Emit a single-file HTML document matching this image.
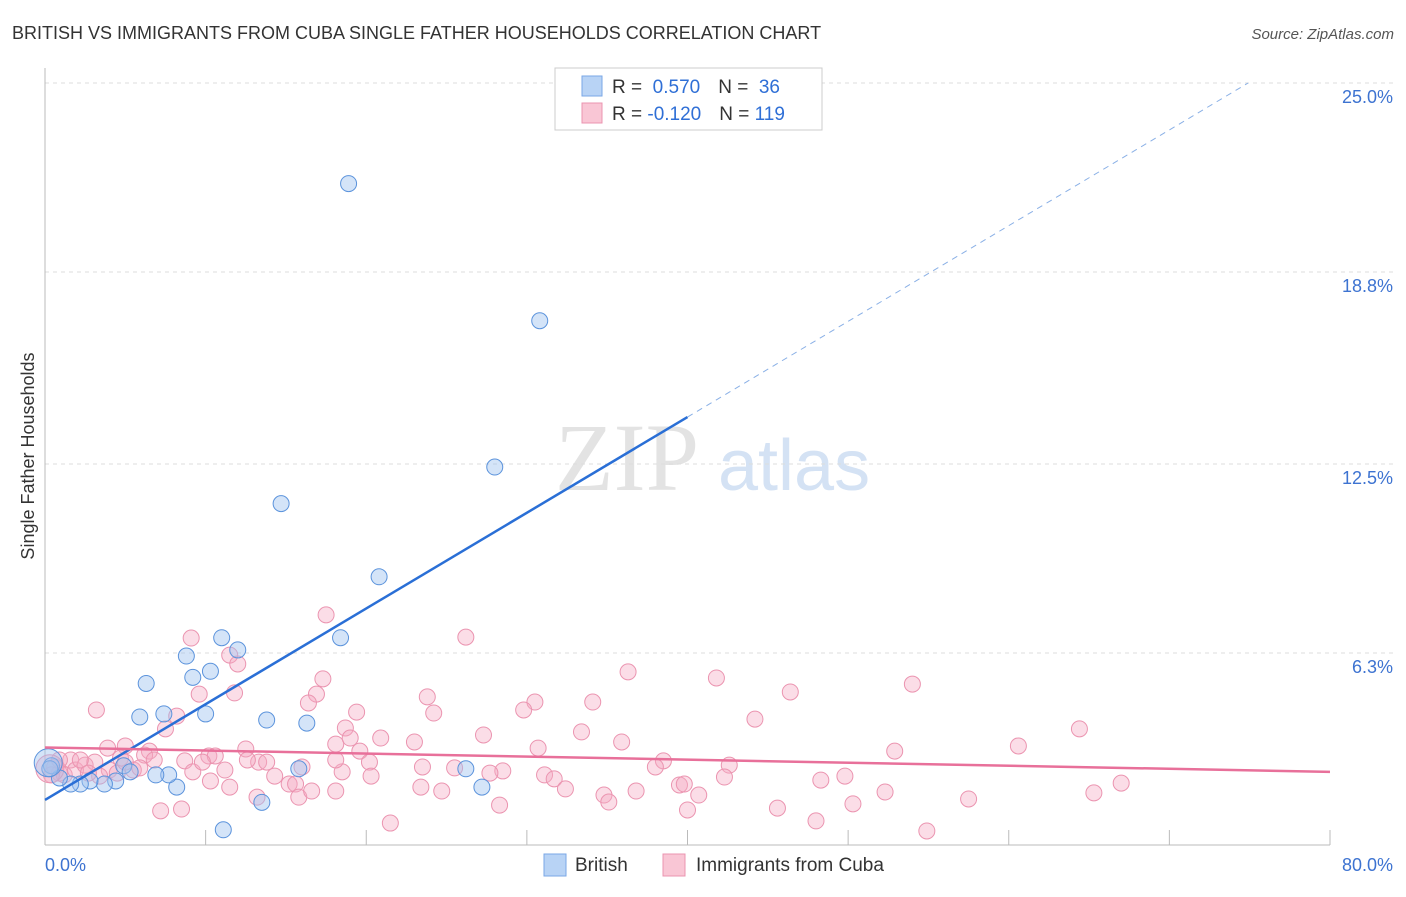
<!DOCTYPE html>
<html><head><meta charset="utf-8"><style>
body{margin:0;background:#fff;font-family:"Liberation Sans",sans-serif}
svg text{font-family:"Liberation Sans",sans-serif}
</style></head><body>
<svg id="chart" width="1406" height="892">
<text x="12" y="39" font-size="18" fill="#333">BRITISH VS IMMIGRANTS FROM CUBA SINGLE FATHER HOUSEHOLDS CORRELATION CHART</text>
<text x="1394" y="39" font-size="15" fill="#555" font-style="italic" text-anchor="end">Source: ZipAtlas.com</text>
<text transform="translate(34,456) rotate(-90)" font-size="18" fill="#333" text-anchor="middle">Single Father Households</text>
<g>
<text x="555" y="490" font-size="96" fill="#e3e3e3" font-family="Liberation Serif" style="font-family:'Liberation Serif',serif">ZIP</text>
<text x="718" y="490" font-size="72" fill="#d4e2f4">atlas</text></g>
<g id="grid"></g><g id="axes"></g><g id="pts"></g><g id="lines"></g>
<g>
<rect x="555" y="68" width="267" height="62" fill="#fff" stroke="#ccc"/>
<rect x="582" y="76" width="20" height="20" fill="#b8d3f5" stroke="#7aa7e6"/>
<rect x="582" y="103" width="20" height="20" fill="#f9c6d5" stroke="#eb94b0"/>
<text x="612" y="93" font-size="19" fill="#333">R = <tspan fill="#2f6fd6">&#160;0.570</tspan><tspan dx="18">N = </tspan><tspan fill="#2f6fd6">&#160;36</tspan></text>
<text x="612" y="120" font-size="19" fill="#333">R = <tspan fill="#2f6fd6">-0.120</tspan><tspan dx="18">N = </tspan><tspan fill="#2f6fd6">119</tspan></text>
</g>
<g>
<rect x="544" y="854" width="22" height="22" fill="#b8d3f5" stroke="#7aa7e6"/>
<text x="575" y="871" font-size="19" fill="#333">British</text>
<rect x="663" y="854" width="22" height="22" fill="#f9c6d5" stroke="#eb94b0"/>
<text x="696" y="871" font-size="19" fill="#333">Immigrants from Cuba</text>
</g>
</svg>
<script>
const yTicks=[6.3,12.5,18.8,25.0];
const yTickLabels=["6.3%","12.5%","18.8%","25.0%"];
const xTickLabels=["0.0%","80.0%"];
const britishX=[18.9,30.8,28.0,14.7,20.8,18.4,11.0,12.0,8.8,10.3,9.2,6.3,10.0,5.9,7.4,13.8,16.3,15.8,26.2,27.2,13.5,11.1,8.2,7.7,6.9,4.9,5.3,4.4,3.7,2.8,2.2,1.6,0.9,0.4,0.3,0.2];
const britishY=[21.7,17.2,12.4,11.2,8.8,6.8,6.8,6.4,6.2,5.7,5.5,5.3,4.3,4.2,4.3,4.1,4.0,2.5,2.5,1.9,1.4,0.5,1.9,2.3,2.3,2.6,2.4,2.1,2.0,2.1,2.0,2.0,2.2,2.6,2.5,2.7];
const cubaX=[17.5,26.2,9.1,11.5,12.0,17.3,36.3,41.8,54.0,9.6,11.8,16.9,23.8,30.5,34.1,46.4,3.2,16.4,29.8,19.4,24.2,8.2,7.5,44.2,64.4,18.7,27.3,33.4,20.9,35.9,23.0,18.1,60.6,52.9,30.7,3.9,5.0,6.5,6.2,12.5,10.2,10.6,13.3,8.7,13.8,19.6,20.2,38.5,42.6,38.0,23.5,25.5,28.5,27.7,31.1,31.7,18.5,20.3,16.0,14.3,9.2,10.3,11.5,13.2,15.2,15.6,15.8,16.6,18.1,23.4,24.7,32.4,34.8,36.8,39.5,39.8,40.7,42.3,48.3,49.8,52.3,57.5,65.3,67.0,35.1,28.3,45.6,50.3,40.0,48.0,54.9,21.5,7.2,8.5,0.9,0.6,1.2,1.6,1.9,2.5,3.1,4.0,4.7,5.5,3.4,5.9,6.8,0.9,0.4,2.2,2.7,4.5,5.0,9.8,12.6,11.2,18.1,19.0,0.3];
const cubaY=[7.55,6.82,6.79,6.23,5.94,5.45,5.68,5.48,5.28,4.95,4.99,4.95,4.86,4.69,4.69,5.02,4.43,4.66,4.43,4.36,4.33,4.23,3.81,4.13,3.81,3.84,3.61,3.71,3.51,3.38,3.38,3.31,3.25,3.08,3.18,3.18,3.25,3.08,2.95,3.15,2.92,2.92,2.72,2.76,2.72,3.08,2.72,2.76,2.62,2.56,2.56,2.53,2.43,2.36,2.30,2.17,2.40,2.26,2.56,2.26,2.40,2.10,1.90,1.57,2.00,2.00,1.57,1.77,1.77,1.90,1.77,1.84,1.64,1.77,1.97,2.00,1.64,2.23,2.13,2.26,1.74,1.51,1.71,2.03,1.41,1.31,1.21,1.35,1.15,0.79,0.46,0.72,1.12,1.18,2.36,2.56,2.30,2.79,2.46,2.62,2.72,2.46,2.85,2.46,2.26,2.53,2.79,2.79,2.30,2.79,2.36,2.36,2.72,2.72,2.79,2.46,2.79,3.51,2.5];
const britishFit=[1.48,0.314];
const cubaFit=[3.2,-0.01];
const X0=45,X1=1330,Y0=845,Y25=83;
const sx=v=>X0+v*(X1-X0)/80, sy=v=>Y0-v*(Y0-Y25)/25;
const NS="http://www.w3.org/2000/svg";
function mk(tag,attrs,parent){const e=document.createElementNS(NS,tag);for(const k in attrs)e.setAttribute(k,attrs[k]);document.getElementById(parent).appendChild(e);return e;}
yTicks.forEach((t,i)=>{
 const g=mk('line',{x1:X0,x2:1393,y1:sy(t),y2:sy(t),stroke:'#ddd','stroke-dasharray':'4,4'},'grid');
 
 
 const l=mk('text',{x:1393,y:sy(t)+20,'text-anchor':'end','font-size':18,fill:'#3d73d1'},'grid');
 l.textContent=yTickLabels[i];
 
 
});
const ax=mk('line',{x1:X0,x2:X0,y1:68,y2:Y0,stroke:'#bbb'},'axes');


const bx=mk('line',{x1:X0,x2:X1,y1:Y0,y2:Y0,stroke:'#bbb'},'axes');


for(let i=1;i<=8;i++){const t=mk('line',{x1:sx(i*10),x2:sx(i*10),y1:Y0-15,y2:Y0,stroke:'#bbb'},'axes');
 
 }
const xl0=mk('text',{x:X0,y:871,'font-size':18,fill:'#3d73d1'},'axes');xl0.textContent=xTickLabels[0];


const xl1=mk('text',{x:1393,y:871,'font-size':18,fill:'#3d73d1','text-anchor':'end'},'axes');xl1.textContent=xTickLabels[1];


cubaX.forEach((x,i)=>{const c=mk('circle',{cx:sx(x),cy:sy(cubaY[i]),r:i==cubaX.length-1?14:8,fill:'rgba(245,170,195,0.4)',stroke:'#eb94b0','stroke-width':1},'pts');
 
 });
britishX.forEach((x,i)=>{const c=mk('circle',{cx:sx(x),cy:sy(britishY[i]),r:i==britishX.length-1?14:8,fill:'rgba(160,195,240,0.45)',stroke:'#5b93dc','stroke-width':1},'pts');
 
 });
const b1=mk('line',{x1:sx(0),y1:sy(britishFit[0]),x2:sx(40),y2:sy(britishFit[0]+40*britishFit[1]),stroke:'#2a6fd6','stroke-width':2.5},'lines');


const xe=(25-britishFit[0])/britishFit[1];
const b2=mk('line',{x1:sx(40),y1:sy(britishFit[0]+40*britishFit[1]),x2:sx(xe),y2:sy(25),stroke:'#8ab0e6','stroke-width':1,'stroke-dasharray':'6,5'},'lines');


const p1=mk('line',{x1:sx(0),y1:sy(cubaFit[0]),x2:sx(80),y2:sy(cubaFit[0]+80*cubaFit[1]),stroke:'#e8709a','stroke-width':2.5},'lines');


</script>
</body></html>
